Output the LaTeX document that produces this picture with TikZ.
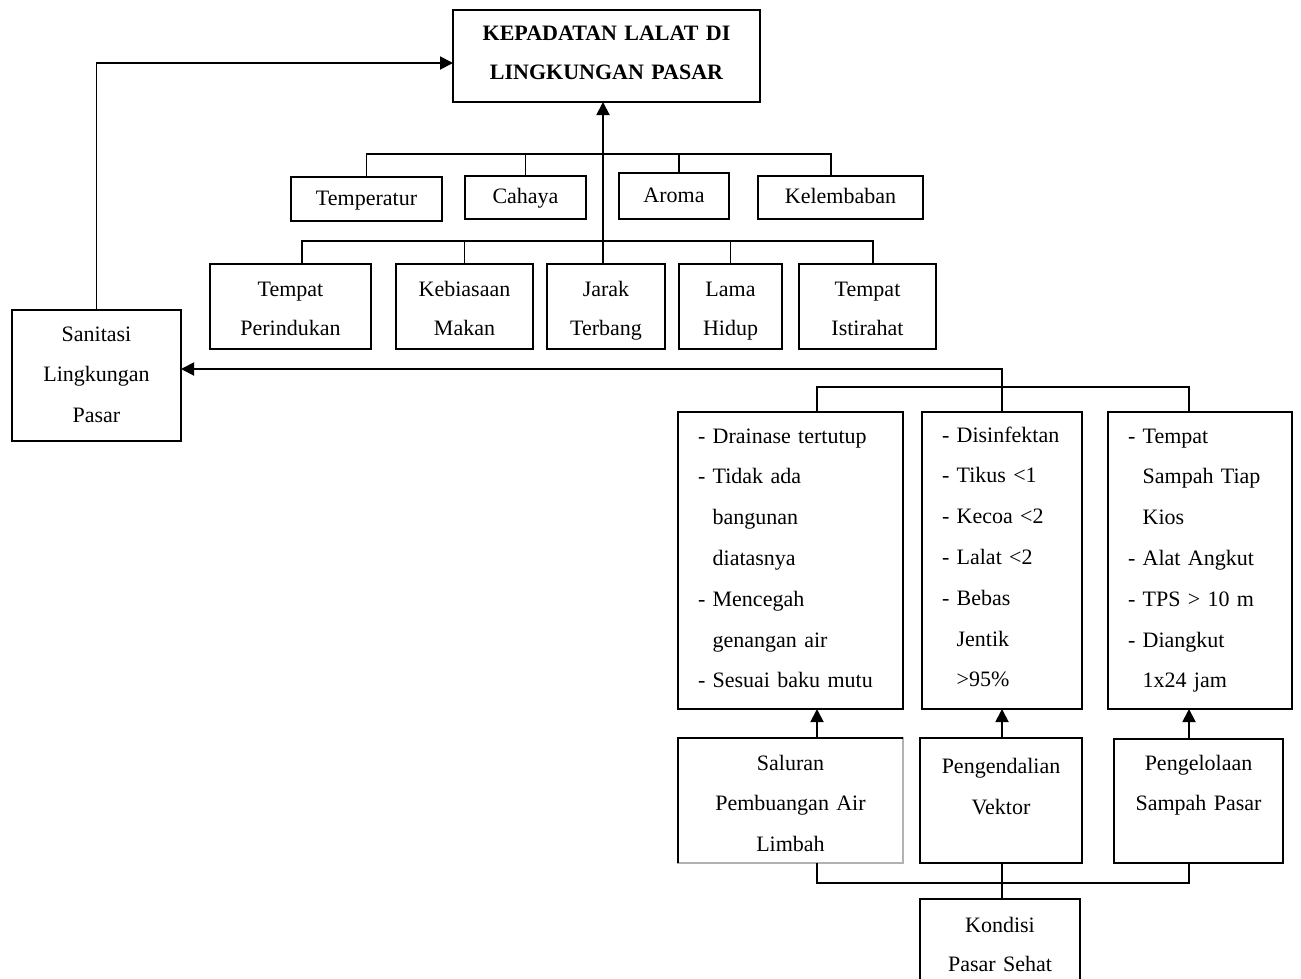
\documentclass[tikz,border=0pt]{standalone}
\usepackage{fontspec}
\setmainfont{Liberation Serif}
\usetikzlibrary{arrows.meta}
\newcommand\mkbox[6][]{\node[bx,#1,minimum width={#4-#2},minimum height={#5-#3}] (#6) at ({(#2+#4)/2},{(#3+#5)/2}) {};}
\tikzset{
  bx/.style={draw, line width=1.9pt, inner sep=0pt, outer sep=0pt},
  ln/.style={line width=1.9pt},
  arr/.style={ln, -{Triangle[length=13pt,width=13pt]}},
  tx/.style={inner sep=0pt, outer sep=0pt, anchor=base, align=center, text width=280pt, font=\fontsize{22}{40.8}\selectfont},
  tl/.style={tx, anchor=base west, align=left, text width=220pt},
}
\begin{document}
\begin{tikzpicture}[x=1pt,y=-1pt]
\useasboundingbox (0,0) rectangle (1301,978);
\clip (0,0) rectangle (1301,978);
% boxes
\mkbox{453}{10}{760}{102}{kep}
\mkbox{291}{177}{442}{221}{tem}
\mkbox{465}{176}{586}{219}{cah}
\mkbox{619}{173}{729}{219}{aro}
\mkbox{758}{176}{923}{219}{kel}
\mkbox{210}{264}{371}{349}{tp}
\mkbox{396}{264}{533}{349}{keb}
\mkbox{547}{264}{665}{349}{jar}
\mkbox{679}{264}{782}{349}{lam}
\mkbox{799}{264}{936}{349}{ti}
\mkbox{12}{310}{181}{441}{san}
\mkbox{678}{412}{903}{709}{dra}
\mkbox{922}{412}{1082}{709}{dis}
\mkbox{1108}{412}{1292}{709}{tps}
\mkbox[draw=gray!60]{678}{738}{903}{863}{sal}
\mkbox{920}{738}{1082}{863}{pen}
\mkbox{1114}{739}{1283}{863}{pgl}
\mkbox{920}{899}{1080}{995}{kon}
\draw[ln] (sal.south west) -- (sal.north west) -- (sal.north east);
% texts
\node[tx,font=\fontsize{22}{39}\selectfont\bfseries] (tkep) at (606.5,40) {KEPADATAN LALAT DI\\LINGKUNGAN PASAR};
\node[tx] (ttem) at (366.5,205) {Temperatur};
\node[tx] (tcah) at (525.5,203) {Cahaya};
\node[tx] (taro) at (674,202) {Aroma};
\node[tx] (tkel) at (840.5,203) {Kelembaban};
\node[tx,font=\fontsize{22}{39}\selectfont] (ttp) at (290.5,296) {Tempat\\Perindukan};
\node[tx,font=\fontsize{22}{39}\selectfont] (tkeb) at (464.5,296) {Kebiasaan\\Makan};
\node[tx,font=\fontsize{22}{39}\selectfont] (tjar) at (606,296) {Jarak\\Terbang};
\node[tx,font=\fontsize{22}{39}\selectfont] (tlam) at (730.5,296) {Lama\\Hidup};
\node[tx,font=\fontsize{22}{39}\selectfont] (tti) at (867.5,296) {Tempat\\Istirahat};
\node[tx,font=\fontsize{22}{40.5}\selectfont] (tsan) at (96.5,341) {Sanitasi\\Lingkungan\\Pasar};
\node[tl] (tdra) at (698,443) {- Drainase tertutup\\- Tidak ada\\\hphantom{- }bangunan\\\hphantom{- }diatasnya\\- Mencegah\\\hphantom{- }genangan air\\- Sesuai baku mutu};
\node[tl] (tdis) at (942,442) {- Disinfektan\\- Tikus <1\\- Kecoa <2\\- Lalat <2\\- Bebas\\\hphantom{- }Jentik\\\hphantom{- }>95\%};
\node[tl] (ttps) at (1128,443) {- Tempat\\\hphantom{- }Sampah Tiap\\\hphantom{- }Kios\\- Alat Angkut\\- TPS > 10 m\\- Diangkut\\\hphantom{- }1x24 jam};
\node[tx,font=\fontsize{22}{40.5}\selectfont] (tsal) at (790.5,770) {Saluran\\Pembuangan Air\\Limbah};
\node[tx,font=\fontsize{22}{41}\selectfont] (tpen) at (1001,773) {Pengendalian\\Vektor};
\node[tx,font=\fontsize{22}{40}\selectfont] (tpgl) at (1198.5,770) {Pengelolaan\\Sampah Pasar};
\node[tx,font=\fontsize{22}{39}\selectfont] (tkon) at (1000,932) {Kondisi\\Pasar Sehat};
% helper coordinates
\coordinate (ub) at (0,154);
\coordinate (lb) at (0,241);
\coordinate (top) at (0,369);
\coordinate (br1) at (0,387);
\coordinate (br2) at (0,883);
\coordinate (xa) at (679,0);
\coordinate (xk) at (831,0);
\coordinate (xt) at (302,0);
\coordinate (xi) at (873,0);
\coordinate (xj) at (603,0);
\coordinate (xl) at (817,0);
\coordinate (xr) at (1189,0);
% connectors top
\draw[arr] (san.north) |- ([yshift=-7pt]kep.west);
\draw[arr] (jar.north -| xj) -- (kep.south -| xj);
\draw[ln] (tem.north) -- (tem.north |- ub) -- (xk |- ub) -- (kel.north -| xk);
\draw[ln] (cah.north) -- (cah.north |- ub);
\draw[ln] (aro.north -| xa) -- (xa |- ub);
\draw[ln] (tp.north -| xt) -- (xt |- lb) -- (xi |- lb) -- (ti.north -| xi);
\draw[ln] (keb.north) -- (keb.north |- lb);
\draw[ln] (lam.north) -- (lam.north |- lb);
% connectors right
\draw[arr] (dis.north) -- (dis.north |- top) -- (san.east |- top);
\draw[ln] (dra.north -| xl) -- (xl |- br1) -- (xr |- br1) -- (tps.north -| xr);
\draw[arr] (sal.north -| xl) -- (dra.south -| xl);
\draw[arr] (pen.north -| dis.south) -- (dis.south);
\draw[arr] (pgl.north -| xr) -- (tps.south -| xr);
\draw[ln] (sal.south -| xl) -- (xl |- br2) -- (xr |- br2) -- (pgl.south -| xr);
\draw[ln] (pen.south -| dis.south) -- (kon.north -| dis.south);
\end{tikzpicture}
\end{document}
